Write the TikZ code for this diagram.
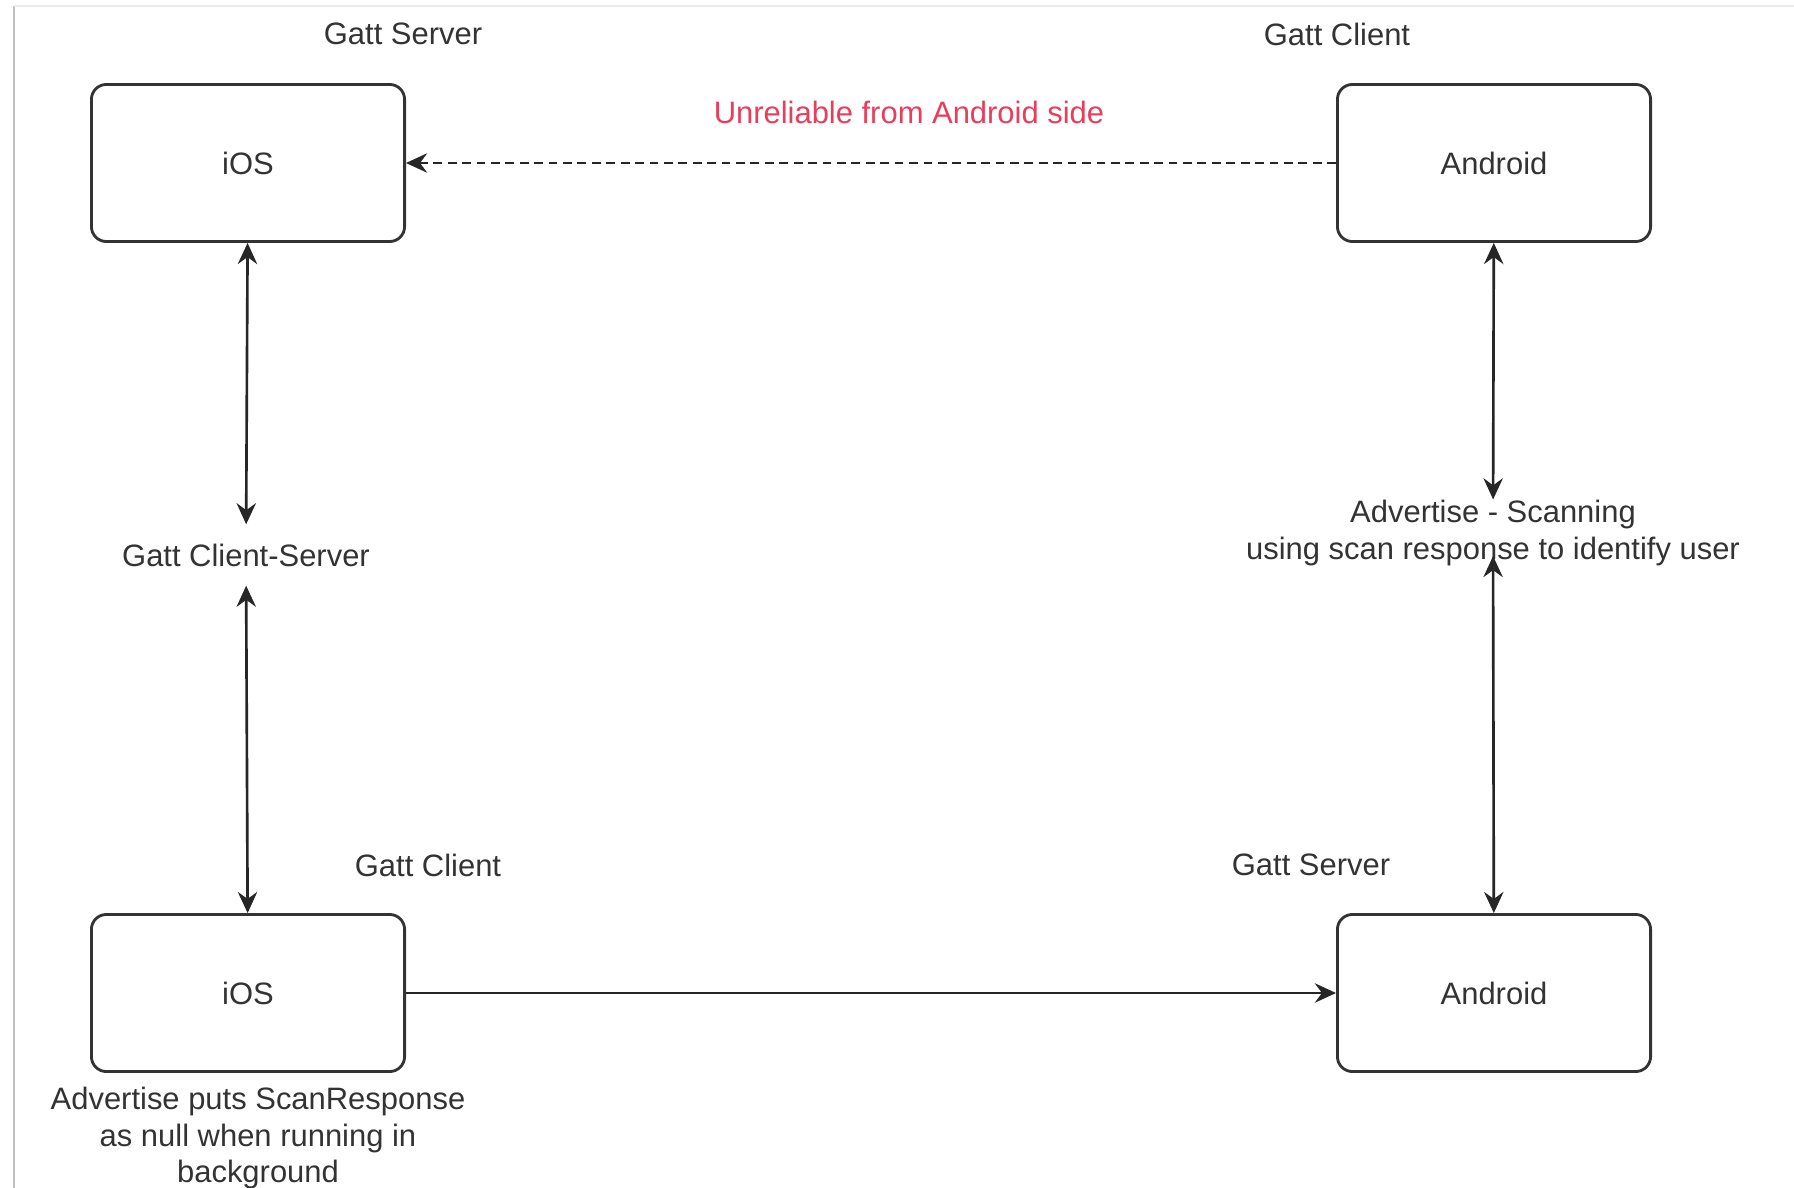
\documentclass[tikz,border=0pt]{standalone}
\usepackage{fontspec}
\setmainfont{Liberation Sans}
\usetikzlibrary{arrows.meta}

\definecolor{warnred}{RGB}{232,62,92}
\definecolor{inkgray}{RGB}{51,51,51}

\begin{document}
\begin{tikzpicture}[x=0.01cm,y=-0.01cm]
   \tikzstyle{every node}=[font=\fontsize{8.8}{10.5}\selectfont, text=inkgray]
   \tikzstyle{device}=[draw=black!80, line width=0.8pt, rounded corners=0.15cm,
      minimum width=3.13cm, minimum height=1.57cm]
   \tikzstyle{caption}=[align=center, inner sep=0pt]
   \tikzstyle{link}=[draw=black!85, line width=0.75pt,
      -{Stealth[length=6pt,width=5.5pt,inset=2pt]}]
   \tikzstyle{twoway}=[link,
      {Stealth[length=6pt,width=5.5pt,inset=2pt]}-{Stealth[length=6pt,width=5.5pt,inset=2pt]}]

   % page and screenshot frame
   \fill[white] (0,0) rectangle (1794,1188);
   \useasboundingbox (0,0) rectangle (1794,1188);
   \draw[black!25, line width=0.7pt] (14,1188) -- (14,6);
   \draw[black!8, line width=0.5pt] (14,6) -- (1794,6);

   % devices
   \node[device] (iosServer) at (248,163) {iOS};
   \node[device] (androidClient) at (1494,163) {Android};
   \node[device] (iosClient) at (248,993) {iOS};
   \node[device] (androidServer) at (1494,993) {Android};

   % roles
   \node (roleA) at (403,34) {Gatt Server};
   \node (roleB) at (1337,34) {Gatt Client};
   \node (roleC) at (428,865) {Gatt Client};
   \node (roleD) at (1311,865) {Gatt Server};

   % middle labels
   \node[caption, inner ysep=5.3pt] (clientServer) at (246,555) {Gatt Client-Server};
   \node[caption] (advScan) at (1493,533)
      {Advertise - Scanning\\using scan response to identify user};
   \node[caption, text=warnred] (unreliable) at (909,112) {Unreliable from Android side};
   \node[caption] (bgNote) at (258,1138)
      {Advertise puts ScanResponse\\as null when running in\\background};

   % connections
   \draw[link, dash pattern=on 2.5pt off 1.6pt] (androidClient) -- (iosServer);
   \draw[twoway] (iosServer) -- (clientServer);
   \draw[twoway] (clientServer) -- (iosClient);
   \draw[twoway] (androidClient) -- (advScan);
   \draw[twoway, shorten <=-3pt] (advScan) -- (androidServer);
   \draw[link] (iosClient) -- (androidServer);
\end{tikzpicture}
\end{document}
